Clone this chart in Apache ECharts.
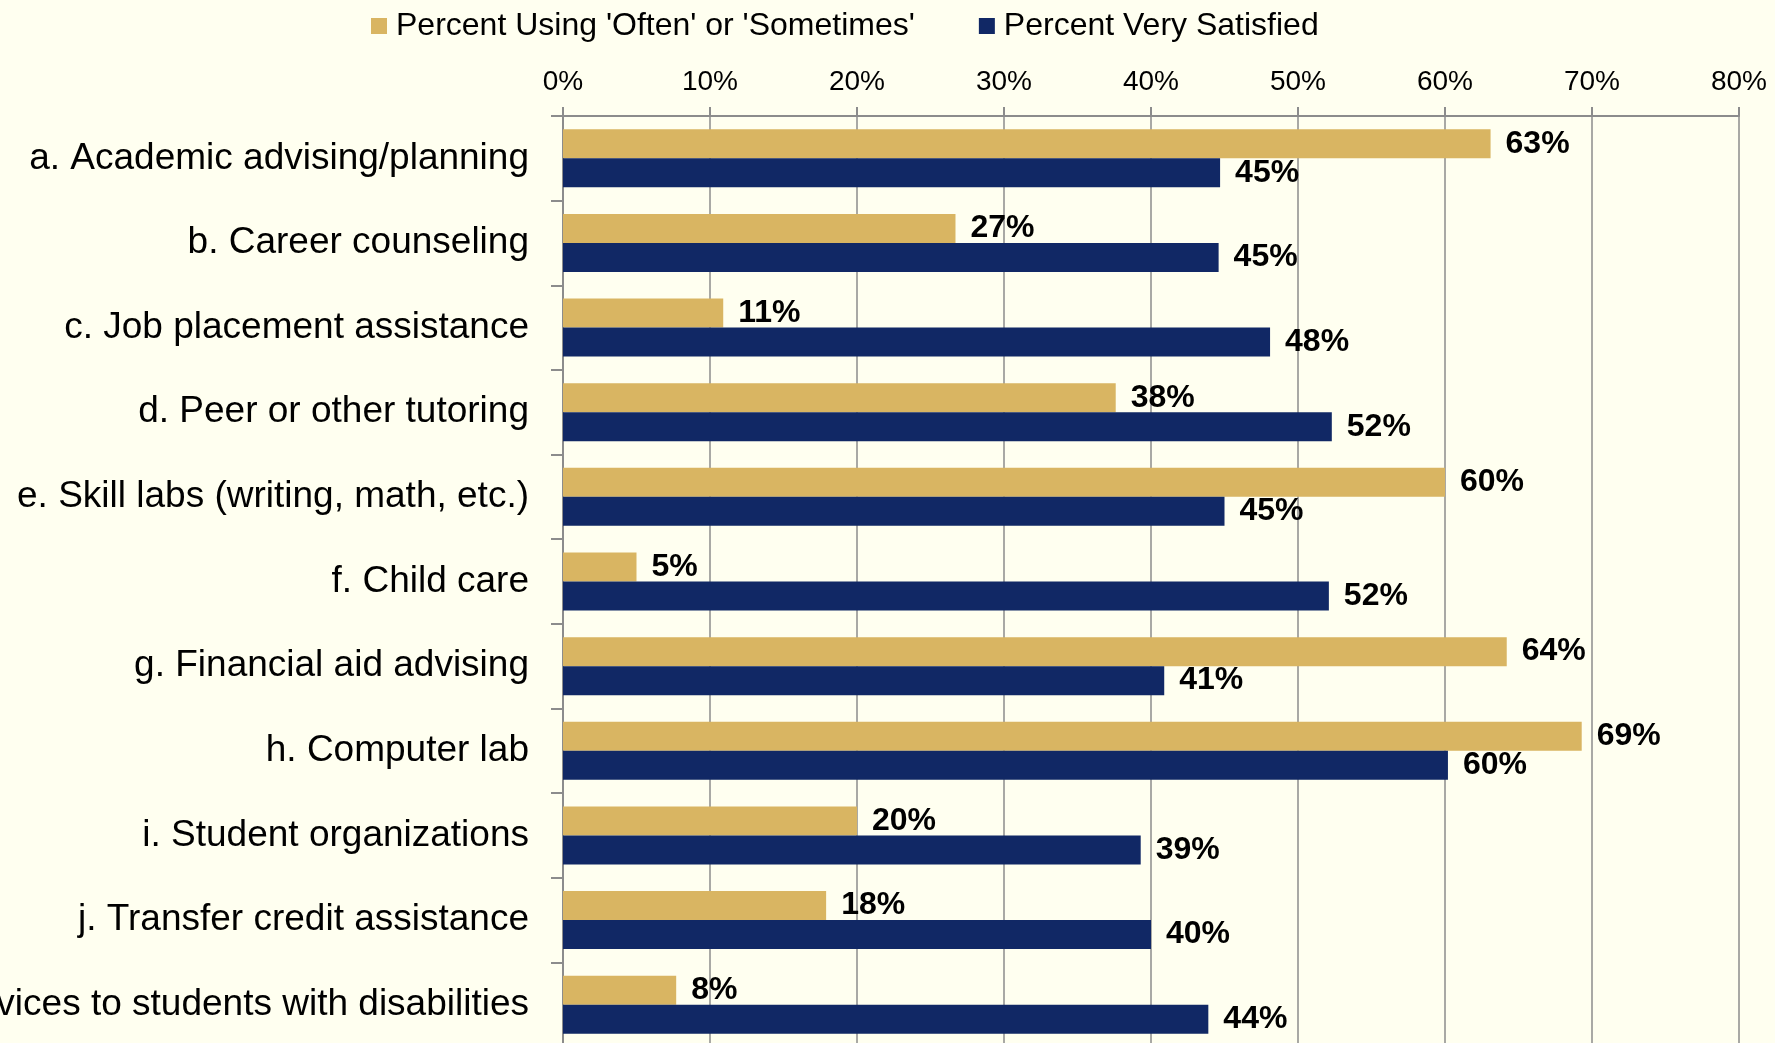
<!DOCTYPE html>
<html>
<head>
<meta charset="utf-8">
<script src="https://cdn.jsdelivr.net/npm/echarts@6/dist/echarts.min.js"></script>
<style>
  html, body { margin: 0; padding: 0; background: #fffff0; }
  #chart { width: 1775px; height: 1043px; }
</style>
</head>
<body>
<div id="chart"></div>
<script>
// categories (top to bottom)
var categories = [
  "a. Academic advising/planning",
  "b. Career counseling",
  "c. Job placement assistance",
  "d. Peer or other tutoring",
  "e. Skill labs (writing, math, etc.)",
  "f. Child care",
  "g. Financial aid advising",
  "h. Computer lab",
  "i. Student organizations",
  "j. Transfer credit assistance",
  "k. Services to students with disabilities"
];
// percent using 'often' or 'sometimes'
var usingData = [63.1, 26.7, 10.9, 37.6, 60.0, 5.0, 64.2, 69.3, 20.0, 17.9, 7.7];
// percent very satisfied
var satisfiedData = [44.7, 44.6, 48.1, 52.3, 45.0, 52.1, 40.9, 60.2, 39.3, 40.0, 43.9];
var seriesNames = ["Percent Using 'Often' or 'Sometimes'", "Percent Very Satisfied"];
var xTicks = [0, 10, 20, 30, 40, 50, 60, 70, 80];

var FONT = "'Liberation Sans', Arial, sans-serif";
var myChart = echarts.init(document.getElementById("chart"));

var labelOpt = {
  show: true,
  position: "right",
  distance: 15,
  color: "#000",
  fontFamily: FONT,
  fontWeight: "bold",
  fontSize: 32,
  formatter: function (p) {
    return Math.round(p.value) + "%";
  }
};

var option = {
  backgroundColor: "#fffff0",
  animation: false,
  color: ["#d9b562", "#112865"],
  legend: {
    left: 366,
    top: 5,
    itemWidth: 16,
    itemHeight: 16,
    itemGap: 64,
    icon: "rect",
    textStyle: {
      fontFamily: FONT,
      fontSize: 32,
      color: "#000",
      padding: [0, 0, 0, 4]
    },
    data: seriesNames
  },
  grid: {
    left: 563,
    right: 36,
    top: 116,
    bottom: -4,
    containLabel: false,
    outerBoundsMode: "none"
  },
  xAxis: {
    type: "value",
    position: "top",
    min: xTicks[0],
    max: xTicks[xTicks.length - 1],
    interval: 10,
    axisLine: { show: true, lineStyle: { color: "#8c8c8c", width: 2 } },
    axisTick: { show: true, length: 9, lineStyle: { color: "#8c8c8c", width: 2 } },
    splitLine: { show: true, lineStyle: { color: "#8c8c8c", width: 1.5 } },
    axisLabel: {
      margin: 20,
      color: "#000",
      fontFamily: FONT,
      fontSize: 28,
      formatter: "{value}%"
    }
  },
  yAxis: {
    type: "category",
    inverse: true,
    data: categories,
    axisLine: { show: true, lineStyle: { color: "#8c8c8c", width: 2 } },
    axisTick: { show: true, length: 12, lineStyle: { color: "#8c8c8c", width: 2 } },
    axisLabel: {
      margin: 34,
      color: "#000",
      fontFamily: FONT,
      fontSize: 37
    }
  },
  series: [
    {
      name: seriesNames[0],
      type: "bar",
      barWidth: 29,
      barGap: "0%",
      data: usingData,
      label: labelOpt
    },
    {
      name: seriesNames[1],
      type: "bar",
      barWidth: 29,
      barGap: "0%",
      data: satisfiedData,
      label: labelOpt
    }
  ]
};

myChart.setOption(option);
window.addEventListener("resize", function () {
  if (myChart) myChart.resize();
});
</script>
</body>
</html>
